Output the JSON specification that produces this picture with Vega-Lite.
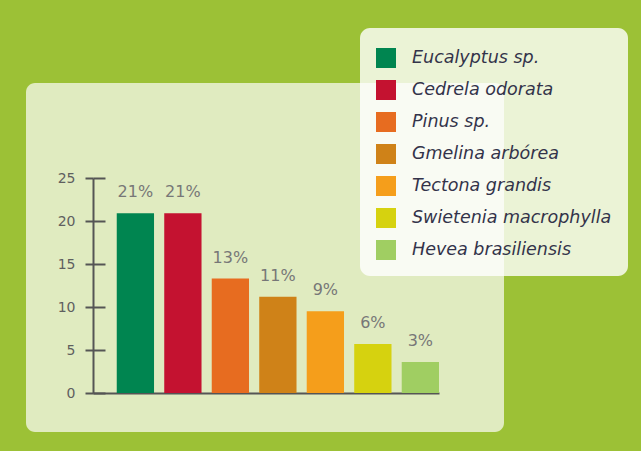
{
  "$schema": "https://vega.github.io/schema/vega-lite/v6.json",
  "autosize": {"type": "none"},
  "width": 478,
  "height": 349,
  "padding": {"left": 26, "top": 83, "right": 137, "bottom": 19},
  "background": "#9cc136",
  "config": {
    "view": {"fill": "#e0ebc0", "stroke": null, "cornerRadius": 9},
    "font": "DejaVu Sans"
  },
  "data": {
    "values": [
      {"species": "Eucalyptus sp.", "value": 20.9, "label": "21%"},
      {"species": "Cedrela odorata", "value": 20.9, "label": "21%"},
      {"species": "Pinus sp.", "value": 13.3, "label": "13%"},
      {"species": "Gmelina arbórea", "value": 11.2, "label": "11%"},
      {"species": "Tectona grandis", "value": 9.5, "label": "9%"},
      {"species": "Swietenia macrophylla", "value": 5.7, "label": "6%"},
      {"species": "Hevea brasiliensis", "value": 3.6, "label": "3%"}
    ]
  },
  "encoding": {
    "x": {
      "field": "species",
      "type": "nominal",
      "sort": null,
      "scale": {"range": [67, 413], "paddingInner": 0.215, "paddingOuter": 0.25, "align": 1},
      "axis": {
        "title": null,
        "labels": false,
        "ticks": false,
        "domainColor": "#555555",
        "domainWidth": 2,
        "offset": -39
      }
    },
    "y": {
      "field": "value",
      "type": "quantitative",
      "scale": {"domain": [0, 25], "range": [310, 95], "nice": false, "zero": true}
    }
  },
  "layer": [
    {
      "mark": {"type": "bar"},
      "encoding": {
        "y": {
          "field": "value",
          "type": "quantitative",
          "axis": {
            "title": null,
            "orient": "left",
            "offset": -67,
            "values": [0, 5, 10, 15, 20, 25],
            "grid": false,
            "domainColor": "#555555",
            "domainWidth": 2,
            "tickColor": "#555555",
            "tickWidth": 2,
            "tickSize": 8,
            "labelPadding": 10,
            "labelFont": "DejaVu Sans",
            "labelFontSize": 14,
            "labelColor": "#5f5f5f"
          }
        },
        "color": {
          "field": "species",
          "type": "nominal",
          "sort": null,
          "scale": {
            "domain": ["Eucalyptus sp.", "Cedrela odorata", "Pinus sp.", "Gmelina arbórea", "Tectona grandis", "Swietenia macrophylla", "Hevea brasiliensis"],
            "range": ["#008550", "#c41230", "#e76c20", "#cf8218", "#f59e1b", "#d6d20f", "#a0ce62"]
          },
          "legend": {
            "title": " ",
            "titleFontSize": 2,
            "titlePadding": 2,
            "orient": "none",
            "legendX": 334,
            "legendY": -55,
            "direction": "vertical",
            "fillColor": "rgba(255,255,255,0.8)",
            "cornerRadius": 10,
            "padding": 16,
            "symbolType": "square",
            "symbolSize": 400,
            "symbolStrokeWidth": 0,
            "symbolOpacity": 1,
            "rowPadding": 12,
            "labelOffset": 16,
            "labelFont": "DejaVu Sans",
            "labelFontStyle": "italic",
            "labelFontSize": 17.5,
            "labelColor": "#33334a",
            "labelLimit": 300
          }
        }
      }
    },
    {
      "mark": {"type": "text", "baseline": "alphabetic", "dy": -16, "fontSize": 16, "color": "#777777", "font": "DejaVu Sans"},
      "encoding": {
        "text": {"field": "label"},
        "y": {
          "field": "value",
          "type": "quantitative",
          "axis": {
            "title": null,
            "orient": "left",
            "offset": -67,
            "values": [0, 5, 10, 15, 20, 25],
            "grid": false,
            "domain": false,
            "labels": false,
            "tickColor": "#555555",
            "tickWidth": 2,
            "tickSize": -12
          }
        }
      }
    }
  ],
  "resolve": {"axis": {"y": "independent"}}
}
